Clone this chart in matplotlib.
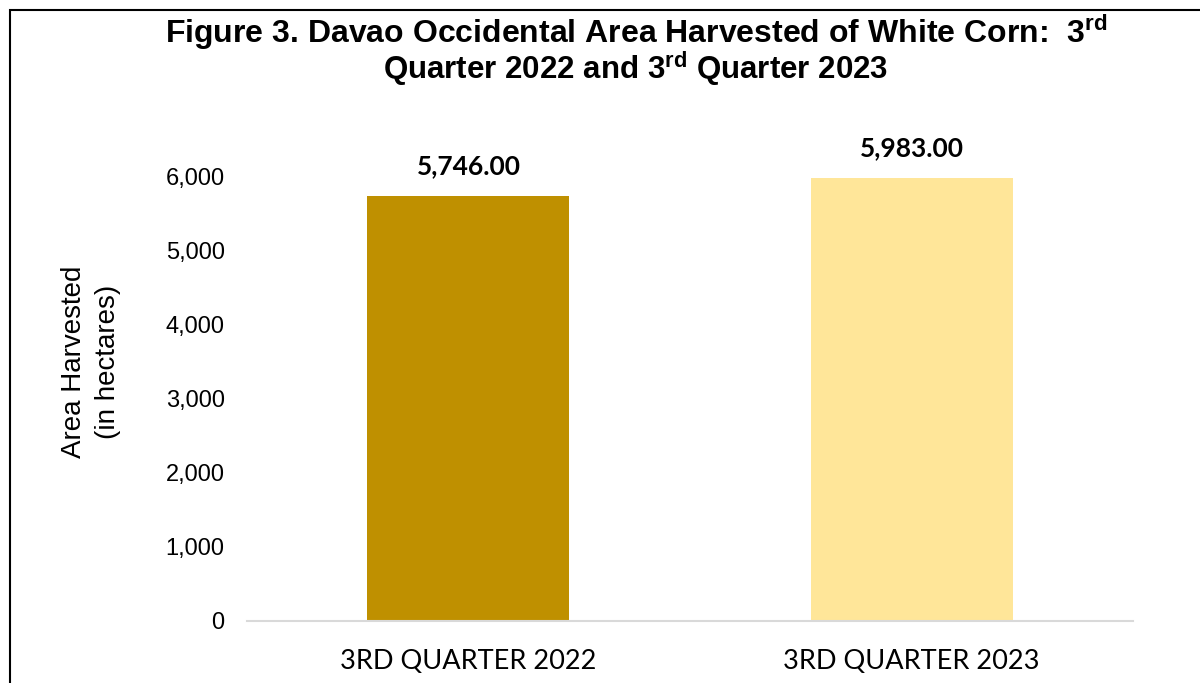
import matplotlib
matplotlib.use("Agg")
import matplotlib.pyplot as plt
from matplotlib.patches import Rectangle
from matplotlib.ticker import FuncFormatter

categories = ["3RD QUARTER 2022", "3RD QUARTER 2023"]
values = [5746.00, 5983.00]
bar_colors = ["#BF9000", "#FFE699"]
y_ticks = [0, 1000, 2000, 3000, 4000, 5000, 6000]

plt.rcParams["mathtext.fontset"] = "custom"
plt.rcParams["mathtext.rm"] = "Liberation Sans:bold"
plt.rcParams["mathtext.bf"] = "Liberation Sans:bold"

fig = plt.figure(figsize=(12, 6.83), dpi=100)
ax = fig.add_axes([0.2058, 0.0908, 0.7384, 0.6501])

x = list(range(len(categories)))
bars = ax.bar(x, values, width=0.456, color=bar_colors)
ax.set_xlim(-0.5, 1.5)
ax.set_ylim(0, 6000)
ax.set_yticks(y_ticks)
ax.yaxis.set_major_formatter(FuncFormatter(lambda v, p: f"{int(v):,}"))
for lab in ax.get_yticklabels():
  lab.set_fontfamily("Liberation Sans")
  lab.set_fontsize(17)
ax.tick_params(axis="y", length=0, pad=16)
ax.set_xticks(x)
ax.set_xticklabels(categories, fontfamily="Lato", fontsize=19.5)
ax.tick_params(axis="x", length=0, pad=20)
for s in ["top", "right", "left"]:
  ax.spines[s].set_visible(False)
ax.spines["bottom"].set_color("#D9D9D9")
ax.spines["bottom"].set_linewidth(1.5)

for b, v in zip(bars, values):
  ax.annotate(f"{v:,.2f}", xy=(b.get_x() + b.get_width() / 2, v),
              xytext=(0, 13), textcoords="offset points", ha="center", va="bottom",
              fontfamily="Lato", fontweight="bold", fontsize=19, annotation_clip=False)

fig.text(74 / 1200, 1 - 362 / 683, "Area Harvested", rotation=90, ha="center", va="center",
         fontfamily="Liberation Sans", fontsize=20)
fig.text(108 / 1200, 1 - 362 / 683, "(in hectares)", rotation=90, ha="center", va="center",
         fontfamily="Liberation Sans", fontsize=20)

# title, two lines with superscript "rd"
fig.text(0.530, 1 - 43 / 683, r"Figure 3. Davao Occidental Area Harvested of White Corn:  3$^{\mathbf{rd}}$",
         ha="center", va="baseline", fontfamily="Liberation Sans", fontweight="bold", fontsize=23)
fig.text(0.530, 1 - 79 / 683, r"Quarter 2022 and 3$^{\mathbf{rd}}$ Quarter 2023",
         ha="center", va="baseline", fontfamily="Liberation Sans", fontweight="bold", fontsize=22.5)

fig.patches.append(Rectangle((10 / 1200, -0.05), 1.2, 1 - 10 / 683 + 0.05, transform=fig.transFigure,
                             fill=False, edgecolor="black", linewidth=1.5))

fig.savefig("out.png", dpi=100)
